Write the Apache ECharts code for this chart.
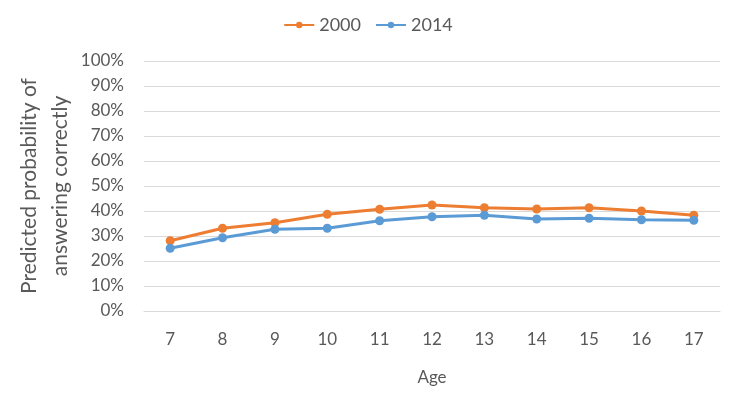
<!DOCTYPE html>
<html>
<head>
<meta charset="utf-8">
<script src="https://cdn.jsdelivr.net/npm/echarts@6/dist/echarts.min.js"></script>
<style>
  html, body { margin: 0; padding: 0; background: #fff; }
  #chart { width: 736px; height: 398px; }
</style>
</head>
<body>
<div id="chart"></div>
<script>
// 数据
const ages = ['7', '8', '9', '10', '11', '12', '13', '14', '15', '16', '17']
const values2000 = [28.1, 33.1, 35.3, 38.7, 40.7, 42.4, 41.3, 40.8, 41.3, 40.0, 38.3]
const values2014 = [25.1, 29.3, 32.7, 33.1, 36.1, 37.7, 38.3, 36.8, 37.1, 36.5, 36.3]

const textColor = '#595959'
const fontFamily = 'Lato, "Open Sans", sans-serif'

const chart = echarts.init(document.getElementById('chart'))

const option = {
  animation: false,
  textStyle: { fontFamily: fontFamily, color: textColor },
  legend: {
    top: 11,
    left: 'center',
    itemWidth: 30,
    itemHeight: 8,
    itemGap: 14,
    textStyle: { fontSize: 18, color: textColor, fontFamily: fontFamily },
    data: ['2000', '2014']
  },
  grid: {
    left: 144,
    right: 16,
    top: 61,
    bottom: 87,
    outerBoundsMode: 'none'
  },
  xAxis: {
    type: 'category',
    data: ages,
    name: 'Age',
    nameLocation: 'middle',
    nameGap: 58,
    nameMoveOverlap: false,
    nameTextStyle: { fontSize: 17, color: textColor },
    axisLine: { show: true, lineStyle: { color: '#d9d9d9' } },
    axisTick: { show: false },
    axisLabel: { fontSize: 17, color: textColor, margin: 20 }
  },
  yAxis: {
    type: 'value',
    min: 0,
    max: 100,
    interval: 10,
    name: 'Predicted probability of\nanswering correctly',
    nameLocation: 'middle',
    nameRotate: 90,
    nameGap: 68,
    nameMoveOverlap: false,
    nameTextStyle: { fontSize: 21, color: textColor, lineHeight: 31 },
    axisLine: { show: false },
    axisTick: { show: false },
    axisLabel: { fontSize: 17, color: textColor, margin: 20, formatter: '{value}%' },
    splitLine: { lineStyle: { color: '#d9d9d9', width: 1 } }
  },
  series: [
    {
      name: '2000',
      type: 'line',
      data: values2000,
      symbol: 'circle',
      symbolSize: 9,
      itemStyle: { color: '#ED7D31' },
      lineStyle: { color: '#ED7D31', width: 3 }
    },
    {
      name: '2014',
      type: 'line',
      data: values2014,
      symbol: 'circle',
      symbolSize: 9,
      itemStyle: { color: '#5B9BD5' },
      lineStyle: { color: '#5B9BD5', width: 3 }
    }
  ]
}

chart.setOption(option)
</script>
</body>
</html>
